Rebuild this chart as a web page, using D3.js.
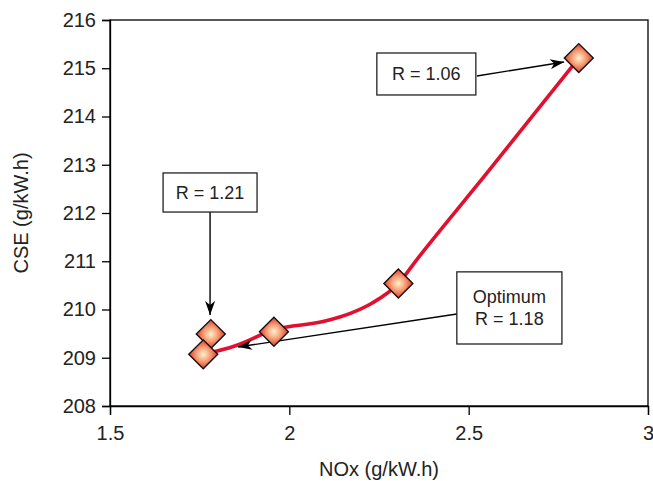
<!DOCTYPE html>
<html><head><meta charset="utf-8">
<script src="https://cdn.jsdelivr.net/npm/d3@7"></script>
<style>body{margin:0;background:#fff}svg{display:block}text{font-family:"Liberation Sans",Arial,sans-serif;fill:#222}</style>
</head><body><svg id="c" width="653" height="481"></svg>
<script>
// Data
const nox = [1.781, 1.760, 1.957, 2.304, 2.807];
const cse = [209.49, 209.07, 209.54, 210.54, 215.21];
// fitted curve
const curveX = [1.760, 1.85, 1.957, 2.10, 2.17, 2.23, 2.304, 2.355, 2.55, 2.807];
const curveY = [209.07, 209.25, 209.58, 209.76, 209.92, 210.13, 210.54, 211.03, 212.82, 215.21];
const xTicks = [1.5, 2, 2.5, 3];
const yTicks = [208, 209, 210, 211, 212, 213, 214, 215, 216];
const labels = [
  {lines:["R = 1.06"], box:[2.244, 215.316, 2.520, 214.446], from:[2.523, 214.84], to:[2.766, 215.13]},
  {lines:["R = 1.21"], box:[1.648, 212.83, 1.910, 212.02], from:[1.779, 212.02], to:[1.779, 209.886]},
  {lines:["Optimum", "R = 1.18"], box:[2.467, 210.78, 2.760, 209.285], from:[2.467, 209.907], to:[1.857, 209.223]}
];

const svg = d3.select("#c");
const L = 110, R = 648, T = 20, B = 406;
const x = d3.scaleLinear().domain([1.5, 3]).range([L, R]);
const y = d3.scaleLinear().domain([208, 216]).range([B, T]);

const defs = svg.append("defs");
const g = defs.append("radialGradient").attr("id","dg").attr("cx","50%").attr("cy","50%").attr("r","60%");
g.append("stop").attr("offset","0%").attr("stop-color","#fff2cc");
g.append("stop").attr("offset","55%").attr("stop-color","#f7a27a");
g.append("stop").attr("offset","100%").attr("stop-color","#e4583e");
defs.append("marker").attr("id","ah").attr("viewBox","0 0 14 10").attr("refX",14).attr("refY",5)
  .attr("markerWidth",14).attr("markerHeight",10).attr("markerUnits","userSpaceOnUse").attr("orient","auto")
  .append("path").attr("d","M0,0 L14,5 L0,10 L4,5 Z").attr("fill","#000");

// frame
svg.append("rect").attr("x",L).attr("y",T).attr("width",R-L).attr("height",B-T)
  .attr("fill","none").attr("stroke","#000").attr("stroke-width",1.3);

const xa = svg.append("g").attr("transform",`translate(0,${B})`)
  .call(d3.axisBottom(x).tickValues(xTicks).tickSize(9).tickPadding(11).tickFormat(d3.format("")));
const ya = svg.append("g").attr("transform",`translate(${L},0)`)
  .call(d3.axisLeft(y).tickValues(yTicks).tickSize(8).tickPadding(6).tickFormat(d3.format("d")));
[xa, ya].forEach(a => {
  a.select(".domain").attr("stroke","#000").attr("stroke-width",1.3);
  a.selectAll(".tick line").attr("stroke","#000").attr("stroke-width",1.3);
  a.selectAll(".tick text").attr("font-size",20).attr("fill","#222").attr("font-family","Liberation Sans, Arial, sans-serif");
});

svg.append("text").attr("x",(L+R)/2).attr("y",476).attr("text-anchor","middle").attr("font-size",20).text("NOx (g/kW.h)");
svg.append("text").attr("transform",`translate(28,${(T+B)/2}) rotate(-90)`).attr("text-anchor","middle").attr("font-size",20).text("CSE (g/kW.h)");

// curve
const pts = curveX.map((v,i)=>[v, curveY[i]]);
svg.append("path").datum(pts)
  .attr("d", d3.line().x(d=>x(d[0])).y(d=>y(d[1])).curve(d3.curveMonotoneX))
  .attr("fill","none").attr("stroke","#e0102e").attr("stroke-width",3.6);

// arrows
labels.forEach(a => {
  svg.append("line").attr("x1",x(a.from[0])).attr("y1",y(a.from[1])).attr("x2",x(a.to[0])).attr("y2",y(a.to[1]))
    .attr("stroke","#000").attr("stroke-width",1.4).attr("marker-end","url(#ah)");
});

// diamonds
const pData = nox.map((v,i)=>[v, cse[i]]);
const dsym = d3.symbol().type(d3.symbolSquare).size(420);
svg.selectAll("path.pt").data(pData).join("path").attr("class","pt")
  .attr("d", dsym)
  .attr("transform", d=>`translate(${x(d[0])},${y(d[1])}) rotate(45)`)
  .attr("fill","url(#dg)").attr("stroke","#111").attr("stroke-width",1.4);

// boxes
labels.forEach(a => {
  const x0 = x(a.box[0]), y0 = y(a.box[1]), x1 = x(a.box[2]), y1 = y(a.box[3]);
  svg.append("rect").attr("x",x0).attr("y",y0).attr("width",x1-x0).attr("height",y1-y0)
    .attr("fill","#fff").attr("stroke","#222").attr("stroke-width",1.3);
  const n = a.lines.length, lh = 22;
  a.lines.forEach((t,i)=>{
    svg.append("text").attr("x",(x0+x1)/2).attr("y",(y0+y1)/2 + (i-(n-1)/2)*lh).attr("dy","0.36em")
      .attr("text-anchor","middle").attr("font-size",18).text(t);
  });
});
</script></body></html>
